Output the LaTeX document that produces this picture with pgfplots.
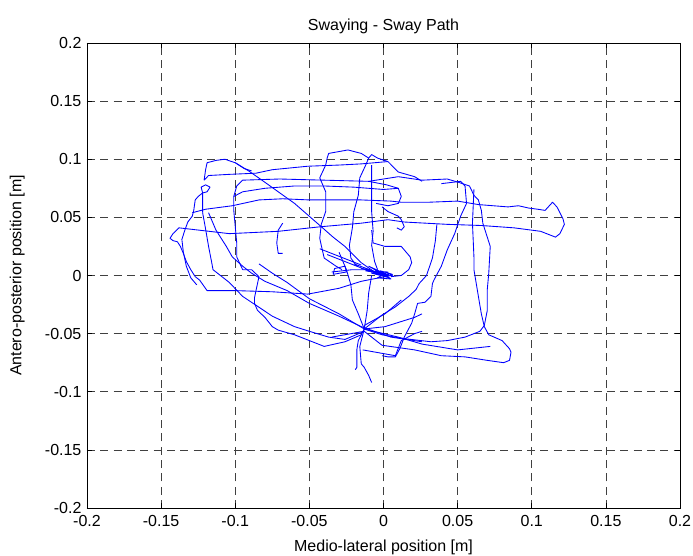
\documentclass[border=0pt]{standalone}
\usepackage{pgfplots}
\pgfplotsset{compat=1.18}
\usepackage{fontspec}
\setmainfont{Liberation Sans}
\pgfplotsset{sp/.style={blue, line width=0.65pt, line join=round, mark=none}}
\begin{document}
\fontsize{12}{14}\selectfont
\begin{tikzpicture}
\begin{axis}[
  scale only axis,
  width=444.75pt, height=348.75pt,
  xmin=-0.2, xmax=0.2, ymin=-0.2, ymax=0.2,
  xtick={-0.2,-0.15,-0.1,-0.05,0,0.05,0.1,0.15,0.2},
  ytick={-0.2,-0.15,-0.1,-0.05,0,0.05,0.1,0.15,0.2},
  xticklabels={-0.2,-0.15,-0.1,-0.05,0,0.05,0.1,0.15,0.2},
  yticklabels={-0.2,-0.15,-0.1,-0.05,0,0.05,0.1,0.15,0.2},
  tick align=inside, major tick length=4pt,
  tick style={black, line width=0.5pt},
  xtick pos=both, ytick pos=both,
  grid=major,
  major grid style={black!75, line width=0.5pt, dash pattern=on 6pt off 4pt},
  axis line style={black, line width=0.6pt},
  title={Swaying - Sway Path},
  xlabel={Medio-lateral position [m]},
  ylabel={Antero-posterior position [m]},
  title style={yshift=-3pt},
  xlabel style={yshift=-2pt},
  ylabel style={yshift=7pt},
  xticklabel style={yshift=-1pt},
]
\addplot[sp] coordinates {(-0.121,0.082) (-0.120,0.091) (-0.119,0.097) (-0.113,0.099) (-0.107,0.100) (-0.100,0.097) (-0.094,0.092) (-0.089,0.090)};
\addplot[sp] coordinates {(-0.100,0.097) (-0.091,0.090) (-0.082,0.082) (-0.071,0.072) (-0.060,0.062) (-0.051,0.052) (-0.042,0.042) (-0.034,0.033) (-0.026,0.025) (-0.015,0.011) (-0.006,0.003) (0.000,0.000)};
\addplot[sp] coordinates {(-0.121,0.082) (-0.118,0.086) (-0.104,0.087) (-0.086,0.088) (-0.075,0.091) (-0.051,0.094) (-0.030,0.095) (-0.015,0.096) (0.003,0.098) (0.010,0.089) (0.021,0.085) (0.026,0.081)};
\addplot[sp] coordinates {(0.003,0.098) (-0.004,0.101) (-0.008,0.104) (-0.010,0.101) (-0.015,0.105) (-0.024,0.108) (-0.037,0.105) (-0.038,0.101) (-0.039,0.095) (-0.043,0.084) (-0.039,0.072) (-0.039,0.055) (-0.042,0.044) (-0.043,0.032) (-0.042,0.026) (-0.040,0.015) (-0.032,0.008) (-0.028,0.005)};
\addplot[sp] coordinates {(-0.095,0.005) (-0.099,0.016) (-0.099,0.028) (-0.100,0.042) (-0.101,0.056) (-0.101,0.068) (-0.099,0.077) (-0.095,0.082) (-0.070,0.083) (-0.040,0.082) (-0.010,0.081) (0.010,0.085) (0.026,0.082) (0.043,0.083) (0.051,0.080) (0.058,0.077) (0.061,0.069) (0.064,0.065) (0.066,0.056) (0.067,0.045) (0.072,0.025) (0.071,0.002) (0.070,-0.012) (0.070,-0.030) (0.068,-0.043) (0.065,-0.048) (0.055,-0.053) (0.043,-0.056) (0.032,-0.057) (0.012,-0.054) (-0.001,-0.051) (-0.013,-0.046)};
\addplot[sp] coordinates {(-0.095,0.005) (-0.089,0.005) (-0.084,-0.001) (-0.087,-0.019) (-0.087,-0.024) (-0.085,-0.030) (-0.080,-0.036) (-0.075,-0.044) (-0.071,-0.047) (-0.060,-0.051) (-0.050,-0.056) (-0.040,-0.061) (-0.026,-0.057) (-0.015,-0.051)};
\addplot[sp] coordinates {(-0.129,0.054) (-0.120,0.057) (-0.102,0.060) (-0.084,0.065) (-0.068,0.066) (-0.050,0.065) (-0.015,0.065) (0.005,0.064) (0.012,0.063) (0.030,0.063) (0.050,0.064) (0.064,0.061) (0.084,0.059) (0.091,0.060) (0.098,0.058) (0.104,0.057) (0.109,0.056) (0.114,0.063) (0.117,0.059) (0.121,0.049) (0.122,0.044) (0.119,0.036) (0.116,0.033) (0.106,0.038) (0.088,0.041) (0.066,0.043) (0.043,0.044) (0.014,0.046) (0.003,0.048) (-0.015,0.045) (-0.042,0.042) (-0.071,0.038) (-0.104,0.036) (-0.138,0.041) (-0.142,0.036) (-0.144,0.032) (-0.142,0.030) (-0.139,0.029) (-0.137,0.025) (-0.135,0.019) (-0.133,0.012) (-0.130,0.005) (-0.127,-0.001) (-0.124,-0.004) (-0.119,-0.013) (-0.100,-0.013) (-0.075,-0.014) (-0.051,-0.016) (-0.030,-0.011) (-0.015,-0.005) (0.005,0.000)};
\addplot[sp] coordinates {(-0.122,0.054) (-0.122,0.065) (-0.122,0.071) (-0.123,0.076) (-0.120,0.078) (-0.117,0.076) (-0.119,0.072) (-0.122,0.071) (-0.125,0.068) (-0.127,0.065) (-0.128,0.056) (-0.129,0.051) (-0.132,0.046) (-0.134,0.039) (-0.136,0.031) (-0.135,0.020) (-0.133,0.008) (-0.130,-0.002) (-0.126,-0.008)};
\addplot[sp] coordinates {(-0.118,0.054) (-0.113,0.039) (-0.106,0.025) (-0.102,0.016) (-0.095,0.008) (-0.089,0.002) (-0.080,-0.005) (-0.065,-0.013) (-0.050,-0.024) (-0.030,-0.035) (-0.015,-0.044) (0.005,-0.053) (0.026,-0.057)};
\addplot[sp] coordinates {(-0.084,0.010) (-0.075,0.002) (-0.065,-0.006) (-0.050,-0.020) (-0.030,-0.033) (-0.013,-0.046) (0.010,-0.053) (0.026,-0.059) (0.050,-0.064) (0.072,-0.061)};
\addplot[sp] coordinates {(-0.122,0.054) (-0.120,0.040) (-0.118,0.025) (-0.116,0.012) (-0.115,0.005) (-0.104,-0.006) (-0.095,-0.018) (-0.082,-0.029) (-0.075,-0.035) (-0.060,-0.044) (-0.050,-0.048) (-0.037,-0.053) (-0.026,-0.055) (-0.013,-0.048)};
\addplot[sp] coordinates {(0.061,0.074) (0.060,0.045) (0.061,0.016) (0.061,0.005) (0.064,-0.018) (0.066,-0.033) (0.068,-0.044) (0.071,-0.051) (0.080,-0.056) (0.085,-0.063) (0.086,-0.066) (0.085,-0.073) (0.081,-0.075) (0.070,-0.073) (0.055,-0.070) (0.039,-0.069) (0.021,-0.064) (-0.001,-0.060) (-0.013,-0.048) (-0.035,-0.053)};
\addplot[sp] coordinates {(0.039,0.079) (0.052,0.081) (0.055,0.077) (0.056,0.062) (0.052,0.051) (0.048,0.036) (0.043,0.022) (0.039,0.008) (0.034,-0.004) (0.033,-0.007) (0.032,-0.018) (0.028,-0.023) (0.023,-0.024) (0.021,-0.033) (0.019,-0.041) (0.014,-0.053) (0.011,-0.063) (0.008,-0.070) (0.003,-0.070) (-0.001,-0.069)};
\addplot[sp] coordinates {(0.036,0.044) (0.035,0.030) (0.033,0.015) (0.029,0.000) (0.024,-0.007) (0.022,-0.012) (0.017,-0.018) (0.008,-0.027) (-0.001,-0.034) (-0.013,-0.046)};
\addplot[sp] coordinates {(-0.001,0.059) (0.003,0.055) (0.010,0.051) (0.012,0.048) (0.014,0.042) (0.012,0.039) (0.009,0.041)};
\addplot[sp] coordinates {(-0.008,0.039) (-0.007,0.028) (0.001,0.025) (0.012,0.025) (0.018,0.016) (0.019,0.011) (0.017,0.005) (0.012,0.000) (0.005,-0.001)};
\addplot[sp] coordinates {(-0.010,0.081) (0.002,0.078) (0.010,0.075) (0.012,0.068) (0.010,0.062) (0.003,0.060) (-0.005,0.062)};
\addplot[sp] coordinates {(-0.010,0.101) (-0.012,0.095) (-0.016,0.084) (-0.017,0.069) (-0.020,0.055) (-0.021,0.041) (-0.023,0.026) (-0.022,0.015) (-0.018,0.008)};
\addplot[sp] coordinates {(-0.008,0.095) (-0.008,0.069) (-0.008,0.055) (-0.007,0.038) (-0.008,0.026) (-0.006,0.012) (-0.004,0.005)};
\addplot[sp] coordinates {(-0.020,0.010) (-0.005,0.003) (-0.015,0.006) (0.002,0.001) (-0.010,0.008) (0.004,-0.002) (-0.008,0.002) (0.006,0.000) (-0.012,0.004) (0.003,0.003) (-0.004,-0.002) (0.005,-0.003) (-0.002,0.004) (0.006,0.001) (0.000,-0.001) (0.004,0.002)};
\addplot[sp] coordinates {(-0.043,0.023) (-0.015,0.009)};
\addplot[sp] coordinates {(-0.038,0.018) (-0.010,0.004)};
\addplot[sp] coordinates {(-0.035,0.003) (-0.021,0.005) (-0.010,0.005)};
\addplot[sp] coordinates {(-0.034,0.001) (-0.033,0.006) (-0.026,0.008) (-0.025,0.003) (-0.034,0.001)};
\addplot[sp] coordinates {(-0.030,0.020) (-0.025,0.005) (-0.022,-0.008) (-0.021,-0.021) (-0.017,-0.033) (-0.013,-0.046) (-0.017,-0.056) (-0.018,-0.064) (-0.018,-0.079) (-0.019,-0.081)};
\addplot[sp] coordinates {(-0.008,0.000) (-0.010,-0.015) (-0.011,-0.030) (-0.013,-0.046) (-0.016,-0.061) (-0.015,-0.076) (-0.013,-0.079) (-0.010,-0.086) (-0.008,-0.092)};
\addplot[sp] coordinates {(-0.014,-0.064) (0.008,-0.069) (0.012,-0.056) (0.021,-0.050) (0.026,-0.048)};
\addplot[sp] coordinates {(-0.013,-0.046) (0.001,-0.044) (0.021,-0.036) (0.026,-0.033)};
\addplot[sp] coordinates {(0.012,-0.021) (0.001,-0.033) (-0.013,-0.043)};
\addplot[sp] coordinates {(-0.068,0.045) (-0.071,0.039) (-0.072,0.028) (-0.071,0.019) (-0.068,0.019)};
\addplot[sp] coordinates {(-0.101,0.068) (-0.095,0.072) (-0.080,0.075) (-0.060,0.077) (-0.040,0.077) (-0.020,0.076) (0.000,0.074) (0.010,0.075)};
\end{axis}
\pgfresetboundingbox
\path ([shift={(-65.25pt,-35.25pt)}]current axis.south west) rectangle ([shift={(9.75pt,32.25pt)}]current axis.north east);
\end{tikzpicture}
\end{document}
